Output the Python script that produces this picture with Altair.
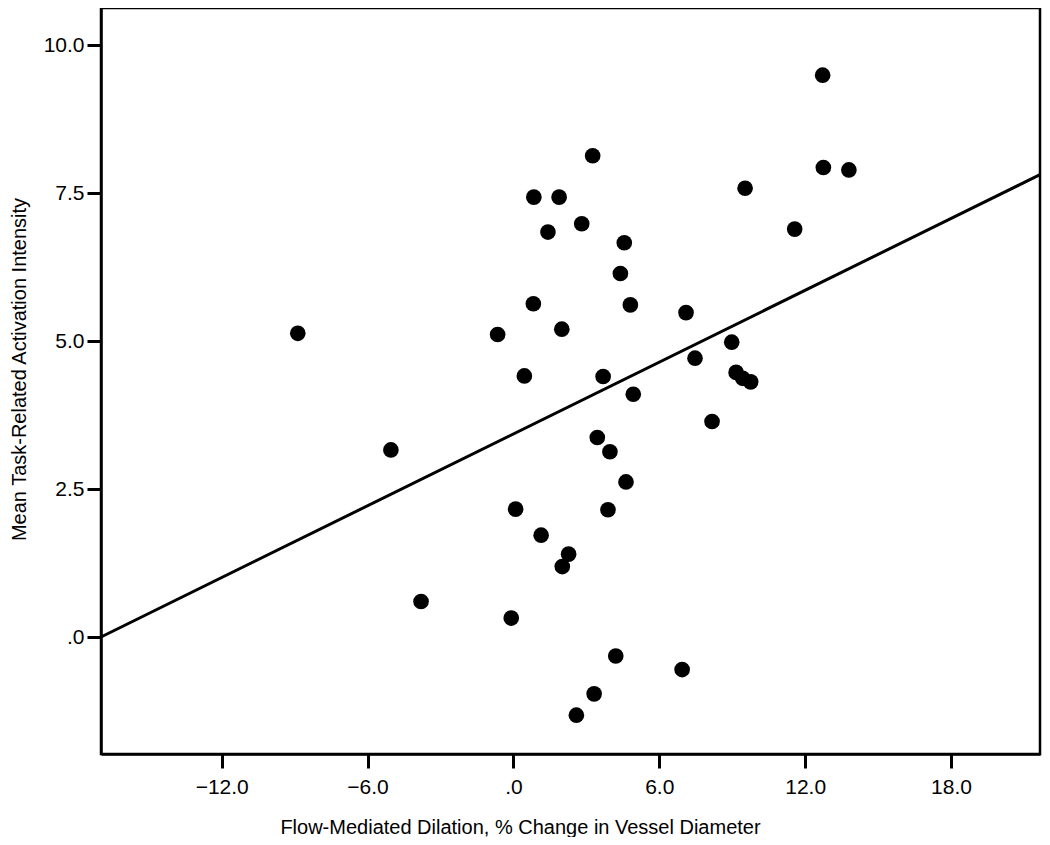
import altair as alt
import pandas as pd

# Flow-mediated dilation (% change) and mean task-related activation intensity
fmd = [-8.87, -5.04, -3.80, -0.65, 0.45, -0.09, 0.09, 0.82, 0.84, 1.42,
       1.14, 1.88, 1.99, 2.27, 2.01, 2.81, 3.26, 3.45, 3.69, 3.97,
       3.89, 4.40, 4.56, 4.63, 4.81, 4.93, 4.21, 3.32, 2.59, 6.94,
       7.10, 7.47, 8.17, 8.98, 9.16, 9.43, 9.76, 9.53, 11.57, 12.72,
       12.75, 13.80]
activation = [5.13, 3.16, 0.60, 5.11, 4.41, 0.32, 2.16, 5.63, 7.43, 6.84,
              1.72, 7.43, 5.20, 1.40, 1.19, 6.98, 8.13, 3.37, 4.40, 3.13,
              2.15, 6.14, 6.66, 2.62, 5.61, 4.10, -0.32, -0.96, -1.32, -0.55,
              5.48, 4.71, 3.64, 4.98, 4.47, 4.37, 4.31, 7.58, 6.89, 9.49,
              7.93, 7.89]

# fit line end points
line_x = [-16.965, 21.661]
line_y = [0.0, 7.81]

x_ticks = [-12, -6, 0, 6, 12, 18]
y_ticks = [0, 2.5, 5, 7.5, 10]
x_domain = [-16.965, 21.661]
y_domain = [-1.976, 10.625]
x_title = "Flow-Mediated Dilation, % Change in Vessel Diameter"
y_title = "Mean Task-Related Activation Intensity"

pts = pd.DataFrame({"x": fmd, "y": activation})
ln = pd.DataFrame({"x": line_x, "y": line_y})

FONT = "Liberation Sans"
label_expr = "datum.value == 0 ? '.0' : format(datum.value, '.1f')"

xscale = alt.Scale(domain=x_domain, nice=False, zero=False)
yscale = alt.Scale(domain=y_domain, nice=False, zero=False)

xaxis = alt.Axis(
    values=x_ticks, title=x_title, grid=False, labelExpr=label_expr,
    tickSize=14, tickWidth=3, tickColor="black", domainColor="black",
    domainWidth=2.5, labelFont=FONT, labelFontSize=21, labelColor="black",
    labelBaseline="alphabetic", labelPadding=25, labelFlush=False,
    labelOverlap=False, titleFont=FONT, titleFontSize=20,
    titleFontWeight="normal", titleColor="black", titleBaseline="alphabetic",
    titleY=79, titleX=419,
)
yaxis = alt.Axis(
    values=y_ticks, title=y_title, grid=False, labelExpr=label_expr,
    tickSize=14, tickWidth=3, tickColor="black", domainColor="black",
    domainWidth=2.5, labelFont=FONT, labelFontSize=21, labelColor="black",
    labelPadding=3, labelFlush=False, labelOverlap=False,
    titleFont=FONT, titleFontSize=20, titleFontWeight="normal",
    titleColor="black", titleBaseline="alphabetic", titleAngle=-90,
    titleAlign="center", titleX=-76, titleY=361,
)

line = alt.Chart(ln).mark_line(color="black", strokeWidth=3).encode(
    x=alt.X("x:Q", scale=xscale, axis=xaxis),
    y=alt.Y("y:Q", scale=yscale, axis=yaxis),
)
points = alt.Chart(pts).mark_circle(color="black", opacity=1, size=245).encode(
    x=alt.X("x:Q", scale=xscale),
    y=alt.Y("y:Q", scale=yscale),
)

chart = (
    alt.layer(line, points)
    .properties(
        width=939,
        height=746,
        background="white",
        autosize=alt.AutoSizeParams(type="none"),
        padding={"left": 93, "top": 0, "right": 2, "bottom": 83},
    )
    .configure_view(stroke="black", strokeWidth=2.5)
)

chart.save("out.html", embed_options={"renderer": "svg", "actions": False})
